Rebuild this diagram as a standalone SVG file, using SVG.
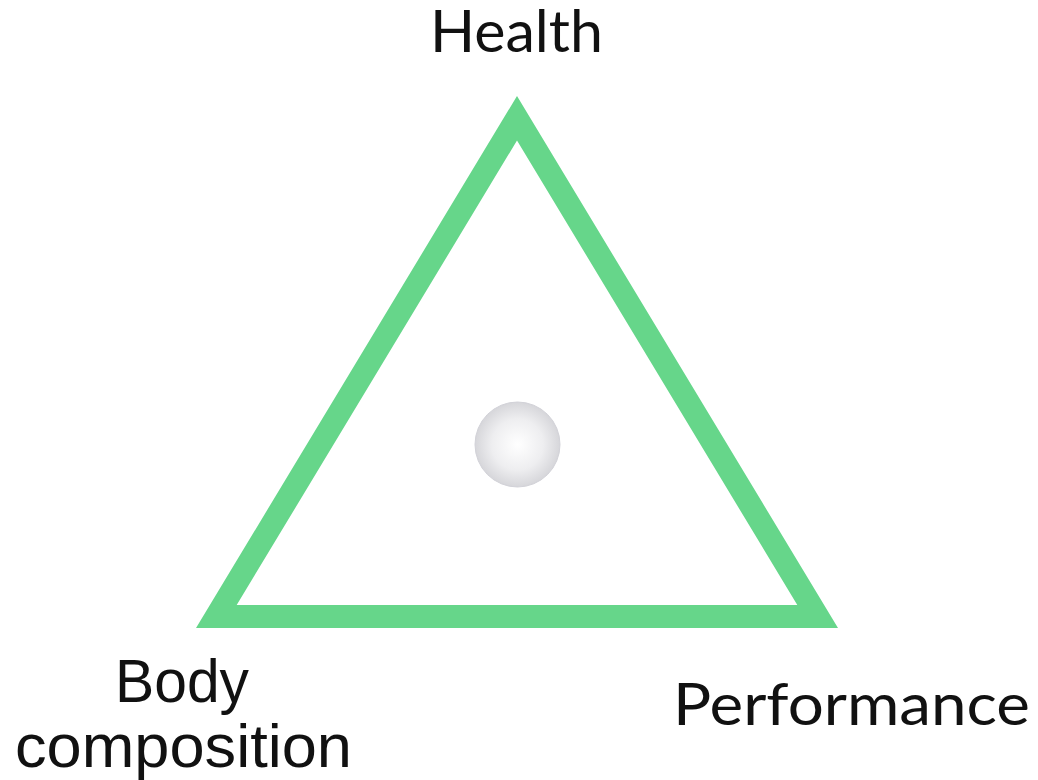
<svg xmlns="http://www.w3.org/2000/svg" width="1038" height="780" viewBox="0 0 1038 780">
  <style>
    .geo { font-family: "Lato", "Noto Sans", "Liberation Sans", sans-serif; font-size: 58px; fill: #111111; }
    .hel { font-family: "Liberation Sans", Arial, sans-serif; font-size: 61px; fill: #111111; }
  </style>
  <defs>
    <radialGradient id="sphere" cx="0.5" cy="0.5" r="0.5">
      <stop offset="0" stop-color="#ffffff"/>
      <stop offset="0.6" stop-color="#eeeef0"/>
      <stop offset="1" stop-color="#d6d6da"/>
    </radialGradient>
  </defs>
  <rect width="1038" height="780" fill="#ffffff"/>
  <g id="triangle">
    <path d="M517,96 L196,628 L838,628 Z M517,140.5 L797.3,605 L236.7,605 Z" fill="#66d68a" fill-rule="evenodd"/>
  </g>
  <g id="ball">
    <circle cx="517.5" cy="444.5" r="42.5" fill="url(#sphere)" stroke="#d2d2d8" stroke-width="1"/>
  </g>
  <g id="health">
    <text class="geo" x="430" y="52" textLength="173" lengthAdjust="spacingAndGlyphs">Health</text>
  </g>
  <g id="body-composition">
    <text class="hel" x="115" y="702" textLength="134" lengthAdjust="spacingAndGlyphs">Body</text>
    <text class="hel" x="15" y="767" textLength="337" lengthAdjust="spacingAndGlyphs">composition</text>
  </g>
  <g id="performance">
    <text class="geo" x="673" y="725" textLength="357" lengthAdjust="spacingAndGlyphs">Performance</text>
  </g>
  <g id="connectors"/>
</svg>
